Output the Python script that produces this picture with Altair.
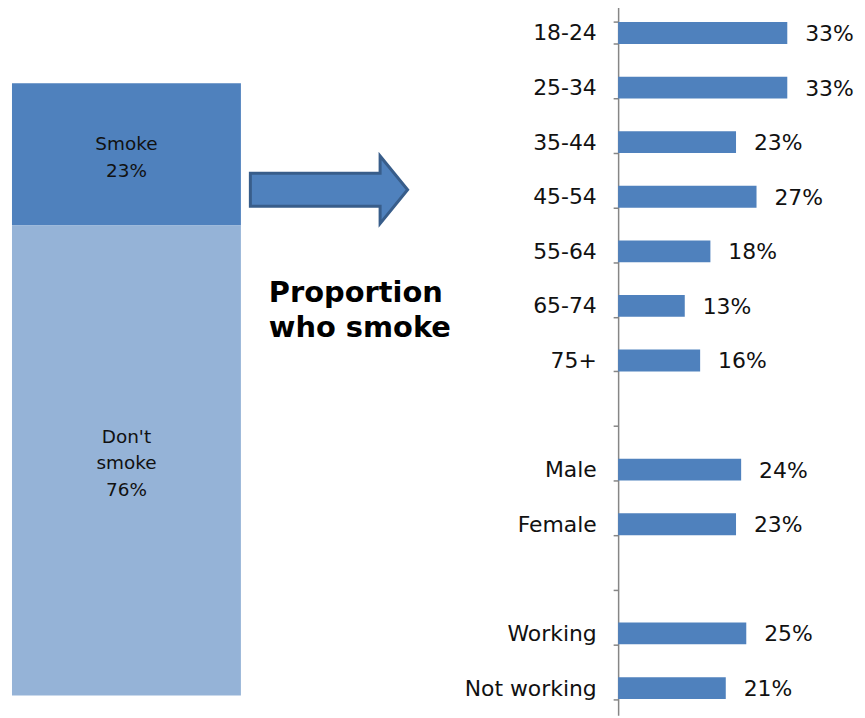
import altair as alt
import pandas as pd

# ---- data ----
overall_status = ["Smoke", "Don't smoke"]
overall_text = ["Smoke", "Don't\nsmoke"]
overall_values = [23, 76]
overall_order = [2, 1]
overall_colors = ["#4F81BD", "#95B3D7"]

groups = ["18-24", "25-34", "35-44", "45-54", "55-64", "65-74", "75+", " ",
          "Male", "Female", "  ", "Working", "Not working"]
group_values = [33, 33, 23, 27, 18, 13, 16, None, 24, 23, None, 25, 21]

title_text = "Proportion\nwho smoke"

H = 713
Y0, Y1 = -3.21, 111.56
LH = 27

# ---- left panel ----
left_df = pd.DataFrame({
    "status": overall_status,
    "text": overall_text,
    "value": overall_values,
    "order": overall_order,
    "col": ["All"] * len(overall_status),
})

xscale = alt.Scale(domain=["All"], paddingInner=0, paddingOuter=0.4565, align=0)
yscale = alt.Scale(domain=[Y0, Y1], nice=False, zero=False)

base = alt.Chart(left_df).transform_stack(
    stack="value", groupby=["col"], as_=["y0", "y1"],
    sort=[alt.SortField("order", order="ascending")]
).transform_calculate(
    lab="datum.text + '\\n' + datum.value + '%'",
).transform_calculate(
    # centre a multi-line label block on the segment midpoint
    mid=f"(datum.y0 + datum.y1) / 2 + (length(split(datum.lab, '\\n')) - 1) / 2 * {LH} * {Y1 - Y0} / {H}",
)

stack_bars = base.mark_bar().encode(
    x=alt.X("col:N", scale=xscale, axis=None),
    y=alt.Y("y0:Q", scale=yscale, axis=None),
    y2="y1:Q",
    color=alt.Color("status:N", scale=alt.Scale(domain=overall_status, range=overall_colors), legend=None),
)

stack_text = base.mark_text(
    font="DejaVu Sans", fontSize=18.5, lineBreak="\n", lineHeight=LH, color="#111111", dy=3
).encode(
    x=alt.X("col:N", scale=xscale, axis=None, bandPosition=0.5),
    y=alt.Y("mid:Q", scale=yscale, axis=None),
    text="lab:N",
)

arrow = alt.Chart(pd.DataFrame({"k": [0]})).mark_point(
    shape="M-1,-0.21L0.65,-0.21L0.65,-0.43L1,0L0.65,0.43L0.65,0.21L-1,0.21Z",
    size=24964, filled=True, fill="#4F81BD", stroke="#385D8A", strokeWidth=3, opacity=1,
).encode(x=alt.value(318.5), y=alt.value(185))

title = alt.Chart(pd.DataFrame({"t": [title_text]})).mark_text(
    font="DejaVu Sans", fontSize=29, fontWeight="bold", align="left", baseline="alphabetic",
    lineBreak="\n", lineHeight=35, color="#000000",
).encode(x=alt.value(258), y=alt.value(298), text="t:N")

left = alt.layer(stack_bars, stack_text, arrow, title).properties(width=440, height=H)

# ---- right panel ----
right_df = pd.DataFrame({"group": groups, "value": group_values})

yR = alt.Y(
    "group:N",
    sort=groups,
    scale=alt.Scale(domain=groups, paddingInner=0.6, paddingOuter=0.3),
    axis=alt.Axis(
        title=None, domainColor="#868686", domainWidth=1.5, tickColor="#868686",
        tickSize=5, tickWidth=1.5, tickBand="extent", labelFont="DejaVu Sans",
        labelFontSize=22, labelColor="#111111", labelPadding=17,
        minExtent=167, maxExtent=167, labelLimit=300,
    ),
)
xR = alt.X("value:Q", scale=alt.Scale(domain=[0, 46.6], nice=False, zero=True), axis=None)

rbase = alt.Chart(right_df).transform_filter("isValid(datum.value)").transform_calculate(
    lab="datum.value + '%'"
)
rbars = rbase.mark_bar(color="#4F81BD").encode(x=xR, y=yR)
rtext = rbase.mark_text(
    align="left", baseline="middle", dx=18, dy=1, font="DejaVu Sans", fontSize=22, color="#111111"
).encode(x=xR, y=yR, text="lab:N")

right = alt.layer(rbars, rtext).properties(width=240, height=H)

chart = alt.hconcat(left, right, spacing=0).properties(
    padding={"left": 4, "top": -15, "right": 0, "bottom": 0}
).configure_view(stroke=None)

chart.save("out.html", embed_options={"renderer": "svg", "actions": False})
